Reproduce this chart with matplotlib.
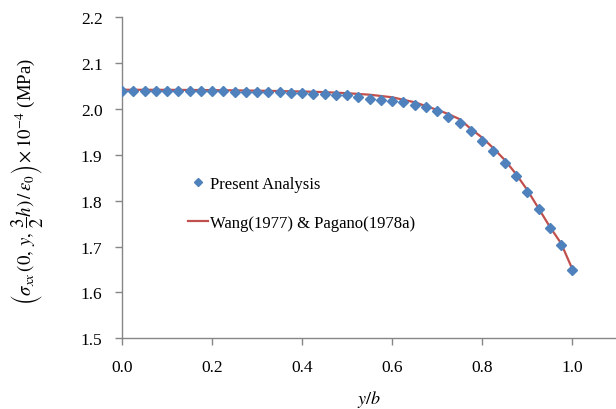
import matplotlib
matplotlib.use("Agg")
import matplotlib.pyplot as plt

# Present Analysis (points)
x_points = [0.000, 0.025, 0.050, 0.075, 0.100, 0.125, 0.150, 0.175, 0.200, 0.225,
            0.250, 0.275, 0.300, 0.325, 0.350, 0.375, 0.400, 0.425, 0.450, 0.475,
            0.500, 0.525, 0.550, 0.575, 0.600, 0.625, 0.650, 0.675, 0.700, 0.725,
            0.750, 0.775, 0.800, 0.825, 0.850, 0.875, 0.900, 0.925, 0.950, 0.975, 1.000]
y_points = [2.0400, 2.0400, 2.0400, 2.0399, 2.0398, 2.0396, 2.0394, 2.0390, 2.0387, 2.0383,
            2.0380, 2.0377, 2.0371, 2.0365, 2.0362, 2.0356, 2.0350, 2.0334, 2.0328, 2.0312,
            2.0306, 2.0256, 2.0225, 2.0197, 2.0175, 2.0147, 2.0098, 2.0037, 1.9950, 1.9833,
            1.9695, 1.9514, 1.9309, 1.9091, 1.8823, 1.8533, 1.8197, 1.7813, 1.7406, 1.7042, 1.6490]

# Wang(1977) & Pagano(1978a) (line)
x_line = [0.000, 0.100, 0.200, 0.300, 0.400, 0.450, 0.500, 0.550, 0.600, 0.650,
          0.700, 0.725, 0.750, 0.775, 0.800, 0.825, 0.850, 0.875, 0.900, 0.925,
          0.950, 0.975, 1.000]
y_line = [2.0420, 2.0418, 2.0412, 2.0400, 2.0382, 2.0368, 2.0345, 2.0312, 2.0256, 2.0147,
          1.9980, 1.9890, 1.9777, 1.9565, 1.9375, 1.9143, 1.8888, 1.8583, 1.8234, 1.7835,
          1.7434, 1.7072, 1.6512]

x_ticks = [0.0, 0.2, 0.4, 0.6, 0.8, 1.0]
y_ticks = [1.5, 1.6, 1.7, 1.8, 1.9, 2.0, 2.1, 2.2]

plt.rcParams['font.family'] = ['Liberation Serif', 'DejaVu Serif']
plt.rcParams['mathtext.fontset'] = 'stix'

W, H = 616, 410
fig = plt.figure(figsize=(W / 100, H / 100), dpi=100)
ax = fig.add_axes([122 / W, 1 - 339.3 / H, (W - 122) / W, (339.3 - 18.3) / H])

axis_col = '#868686'
ax.plot(x_line, y_line, color='#C0504D', lw=1.6, label='Wang(1977) & Pagano(1978a)', zorder=2)
ax.plot(x_points, y_points, linestyle='none', marker='D', markersize=5.2,
        color='#4F81BD', label='Present Analysis', zorder=3)

ax.set_xlim(0, (W - 122) / 450.3)
ax.set_ylim(1.5, 2.2)
ax.set_xticks(x_ticks)
ax.set_xticklabels([f'{v:.1f}' for v in x_ticks])
ax.set_yticks(y_ticks)
ax.set_yticklabels([f'{v:.1f}' for v in y_ticks])

for s in ['top', 'right']:
    ax.spines[s].set_visible(False)
for s in ['left', 'bottom']:
    ax.spines[s].set_color(axis_col)
    ax.spines[s].set_linewidth(1.0)
ax.tick_params(axis='both', direction='out', length=5, width=1, color=axis_col,
               labelsize=12.5, labelcolor='black')
ax.tick_params(axis='x', pad=10)
ax.tick_params(axis='y', pad=9)

ax.set_xlabel('$y/b$', fontsize=13)
ax.xaxis.set_label_coords(0.5, -0.155)

fig.text(27 / W, 1 - 182 / H,
         r'$\left(\sigma_{xx}\,(0,\,y,\,\dfrac{3}{2}h)\,/\,\varepsilon_0\right)\times10^{-4}$ (MPa)',
         rotation=90, ha='center', va='center', fontsize=13.5)

h, l = ax.get_legend_handles_labels()
leg = ax.legend([h[1], h[0]], [l[1], l[0]], loc='upper left',
                bbox_to_anchor=(188 / W, 1 - 177 / H), bbox_transform=fig.transFigure,
                frameon=False, fontsize=12, handlelength=1.2, handletextpad=0.15,
                labelspacing=1.38, markerscale=0.75, borderpad=0, borderaxespad=0)

fig.savefig('out.png', dpi=100)
